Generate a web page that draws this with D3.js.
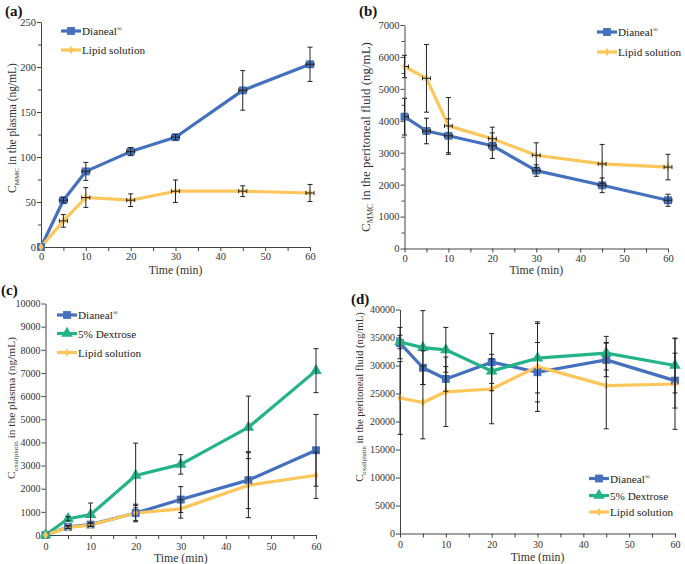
<!DOCTYPE html>
<html><head><meta charset="utf-8">
<script src="https://cdn.jsdelivr.net/npm/d3@7"></script>
<style>
body{margin:0;background:#fff;}
svg text{font-family:"Liberation Serif","Times New Roman",serif;}
</style></head>
<body><svg id="c" width="685" height="564"></svg>
<script>
// ---------- DATA ----------
const time = [0, 5, 10, 20, 30, 45, 60];
const xTicks = [0, 10, 20, 30, 40, 50, 60];

// (a) MMC in plasma
const aDianeal    = [0, 52, 84, 106, 122, 174, 203];
const aDianealErr = [0, 3, 10, 4.5, 3, 22, 19];
const aLipid      = [0, 29, 55, 52, 62, 62, 60];
const aLipidErr   = [0, 7, 11, 7, 12.5, 6, 9.5];
const aYTicks = [0, 50, 100, 150, 200, 250];

// (b) MMC in peritoneal fluid
const bDianeal    = [4130, 3680, 3530, 3220, 2440, 1980, 1510];
const bDianealErr = [575, 400, 530, 400, 180, 230, 190];
const bLipid      = [5700, 5330, 3840, 3440, 2920, 2650, 2550];
const bLipidErr   = [350, 1060, 890, 360, 390, 610, 400];
const bYTicks = [0, 1000, 2000, 3000, 4000, 5000, 6000, 7000];

// (c) oxaliplatin in plasma
const cDianeal     = [0, 350, 450, 950, 1530, 2370, 3660];
const cDianealErr  = [0, 60, 80, 330, 560, 1230, 1550];
const cDextrose    = [0, 700, 880, 2570, 3050, 4650, 7100];
const cDextroseErr = [0, 90, 500, 1400, 420, 1350, 950];
const cLipid       = [0, 330, 430, 950, 1130, 2150, 2580];
const cLipidErr    = [0, 50, 60, 380, 400, 1400, 1000];
const cYTicks = [0, 1000, 2000, 3000, 4000, 5000, 6000, 7000, 8000, 9000, 10000];

// (d) oxaliplatin in peritoneal fluid
const dDianeal     = [34000, 29600, 27600, 30600, 28800, 31000, 27300];
const dDianealErr  = [2800, 3000, 2200, 5100, 5300, 3000, 4900];
const dDextrose    = [34200, 33200, 32800, 29000, 31300, 32200, 30000];
const dDextroseErr = [1200, 6600, 4000, 2200, 6200, 3000, 4900];
const dLipid       = [24200, 23400, 25300, 25800, 29800, 26400, 26700];
const dLipidErr    = [6500, 6500, 6200, 6200, 8000, 7700, 8100];
const dYTicks = [0, 5000, 10000, 15000, 20000, 25000, 30000, 35000, 40000];

const names = {dianeal: "Dianeal", dextrose: "5% Dextrose", lipid: "Lipid solution"};

// ---------- STYLE ----------
const COL = {dianeal: "#4470bd", dextrose: "#22b386", lipid: "#fdc65a"};
const SYM = {dianeal: d3.symbolSquare, dextrose: d3.symbolTriangle, lipid: d3.symbolDiamond};
const SYMSIZE = {dianeal: 62, dextrose: 58, lipid: 22};

const svg = d3.select("#c");

function panel(cfg) {
  const g = svg.append("g");
  const x = d3.scaleLinear().domain([0, 60]).range([cfg.x0, cfg.x1]);
  const y = d3.scaleLinear().domain([0, cfg.ymax]).range([cfg.y0, cfg.y1]);

  // minor x ticks
  g.append("g").attr("transform", `translate(0,${cfg.y0})`)
    .call(d3.axisBottom(x).tickValues(d3.range(5, 60, 10)).tickSize(4).tickFormat(""))
    .call(s => s.select(".domain").remove());
  // major x
  g.append("g").attr("transform", `translate(0,${cfg.y0})`)
    .call(d3.axisBottom(x).tickValues(xTicks).tickSize(4).tickPadding(cfg.xpad).tickSizeOuter(0));
  // minor y
  if (cfg.yminor) {
    g.append("g").attr("transform", `translate(${cfg.x0},0)`)
      .call(d3.axisLeft(y).tickValues(cfg.yminor).tickSize(3).tickFormat(""))
      .call(s => s.select(".domain").remove());
  }
  g.append("g").attr("transform", `translate(${cfg.x0},0)`)
    .call(d3.axisLeft(y).tickValues(cfg.yticks).tickSize(4).tickPadding(1).tickSizeOuter(0).tickFormat(d3.format("d")));

  g.selectAll(".domain").attr("stroke", "#444");
  g.selectAll(".tick line").attr("stroke", "#444");
  g.selectAll(".tick text").attr("fill", "#333").style("font-size", cfg.tickFont + "px")
    .style("font-family", '"Liberation Serif",serif');

  // lines
  cfg.series.forEach(s => {
    g.append("path").datum(time.map((t, i) => [t, s.v[i]]))
      .attr("fill", "none").attr("stroke", COL[s.k]).attr("stroke-width", 3.2)
      .attr("stroke-linejoin", "round")
      .attr("d", d3.line().x(d => x(d[0])).y(d => y(d[1])));
  });
  // markers
  cfg.series.forEach(s => {
    g.selectAll(null).data(time.map((t, i) => [t, s.v[i]])).enter().append("path")
      .attr("d", d3.symbol(SYM[s.k], SYMSIZE[s.k])())
      .attr("fill", COL[s.k])
      .attr("transform", d => `translate(${x(d[0])},${y(d[1])})`);
  });
  // error bars
  const eb = g.append("g").attr("stroke", "#222").attr("stroke-width", 1).attr("fill", "none");
  cfg.series.forEach(s => {
    time.forEach((t, i) => {
      const e = s.e[i];
      if (e <= 0) return;
      const cx = x(t), yt = y(s.v[i] + e), yb = y(s.v[i] - e), cy = y(s.v[i]);
      eb.append("line").attr("x1", cx).attr("x2", cx).attr("y1", yt).attr("y2", yb);
      eb.append("line").attr("x1", cx - 2.5).attr("x2", cx + 2.5).attr("y1", yt).attr("y2", yt);
      eb.append("line").attr("x1", cx - 2.5).attr("x2", cx + 2.5).attr("y1", yb).attr("y2", yb);
      if (cfg.xerr) {
        const xl = x(t - 0.9), xr = x(t + 0.9);
        eb.append("line").attr("x1", Math.max(xl, cfg.x0)).attr("x2", xr).attr("y1", cy).attr("y2", cy);
        if (t > 0) eb.append("line").attr("x1", xl).attr("x2", xl).attr("y1", cy - 2).attr("y2", cy + 2);
        eb.append("line").attr("x1", xr).attr("x2", xr).attr("y1", cy - 2).attr("y2", cy + 2);
      }
    });
  });

  // x title
  g.append("text").attr("x", (cfg.x0 + cfg.x1) / 2).attr("y", cfg.xtitleY)
    .attr("text-anchor", "middle").attr("fill", "#333").style("font-size", "11.8px").text("Time (min)");
  // y title (font fitted to the measured length in the reference)
  const F = 11;
  const yt = g.append("text").attr("transform", `translate(${cfg.ytitleX},${cfg.ytitleCY}) rotate(-90)`)
    .attr("text-anchor", "middle").attr("fill", "#333").style("font-size", F + "px");
  yt.append("tspan").text("C");
  const sub = yt.append("tspan").attr("baseline-shift", "-3").style("font-size", (F * 0.62) + "px").text(cfg.sub);
  yt.append("tspan").text(" " + cfg.ytitle);
  const len = yt.node().getComputedTextLength();
  if (len > 0) {
    const f2 = F * cfg.ytitleLen / len;
    yt.style("font-size", f2 + "px");
    sub.style("font-size", (f2 * 0.62) + "px");
  }

  // panel label
  g.append("text").attr("x", cfg.labX).attr("y", cfg.labY).attr("fill", "#111")
    .style("font-size", "15px").style("font-weight", "bold").text(cfg.label);

  // legend
  cfg.series.forEach((s, i) => {
    const ly = cfg.legY[i];
    g.append("line").attr("x1", cfg.legX).attr("x2", cfg.legX + 20).attr("y1", ly).attr("y2", ly)
      .attr("stroke", COL[s.k]).attr("stroke-width", 3.2);
    g.append("path").attr("d", d3.symbol(SYM[s.k], SYMSIZE[s.k])()).attr("fill", COL[s.k])
      .attr("transform", `translate(${cfg.legX + 10},${ly})`);
    const t = g.append("text").attr("x", cfg.legX + 21).attr("y", ly + 4).attr("fill", "#222")
      .style("font-size", "11.2px");
    t.append("tspan").text(names[s.k]);
    if (s.k === "dianeal") t.append("tspan").attr("baseline-shift", "super").style("font-size", "7px").text("®");
  });
}

panel({
  label: "(a)", labX: 5, labY: 16, xerr: true,
  x0: 41, x1: 310, y0: 247, y1: 22, ymax: 250, yticks: aYTicks,
  yminor: d3.range(25, 250, 50), tickFont: 10.5, xpad: 2,
  xtitleY: 274, ytitleX: 16, ytitleCY: 128, ytitleLen: 130, sub: "MMC", ytitle: "in the plasma (ng/mL)",
  legX: 61, legY: [31, 50],
  series: [{k: "dianeal", v: aDianeal, e: aDianealErr}, {k: "lipid", v: aLipid, e: aLipidErr}]
});

panel({
  label: "(b)", labX: 359, labY: 16, xerr: true,
  x0: 404.5, x1: 668, y0: 248.5, y1: 25, ymax: 7000, yticks: bYTicks,
  yminor: d3.range(500, 7000, 1000), tickFont: 10.5, xpad: 2,
  xtitleY: 274, ytitleX: 370, ytitleCY: 137, ytitleLen: 190, sub: "MMC", ytitle: "in the peritoneal fluid (ng/mL)",
  legX: 597, legY: [32, 52],
  series: [{k: "dianeal", v: bDianeal, e: bDianealErr}, {k: "lipid", v: bLipid, e: bLipidErr}]
});

panel({
  label: "(c)", labX: 1, labY: 295, xerr: false,
  x0: 45.5, x1: 316, y0: 535, y1: 303.5, ymax: 10000, yticks: cYTicks,
  yminor: null, tickFont: 10, xpad: 4,
  xtitleY: 562, ytitleX: 15, ytitleCY: 408, ytitleLen: 142, sub: "oxaliplatin", ytitle: "in the plasma (ng/mL)",
  legX: 57, legY: [315, 333.5, 352.5],
  series: [{k: "dianeal", v: cDianeal, e: cDianealErr}, {k: "dextrose", v: cDextrose, e: cDextroseErr}, {k: "lipid", v: cLipid, e: cLipidErr}]
});

panel({
  label: "(d)", labX: 351, labY: 304, xerr: false,
  x0: 400, x1: 675, y0: 533.5, y1: 309.5, ymax: 40000, yticks: dYTicks,
  yminor: null, tickFont: 10, xpad: 3,
  xtitleY: 561, ytitleX: 363, ytitleCY: 397, ytitleLen: 170, sub: "oxaliplatin", ytitle: "in the peritoneal fluid (ng/mL)",
  legX: 589, legY: [478.5, 495.5, 512],
  series: [{k: "dianeal", v: dDianeal, e: dDianealErr}, {k: "dextrose", v: dDextrose, e: dDextroseErr}, {k: "lipid", v: dLipid, e: dLipidErr}]
});
</script></body></html>
